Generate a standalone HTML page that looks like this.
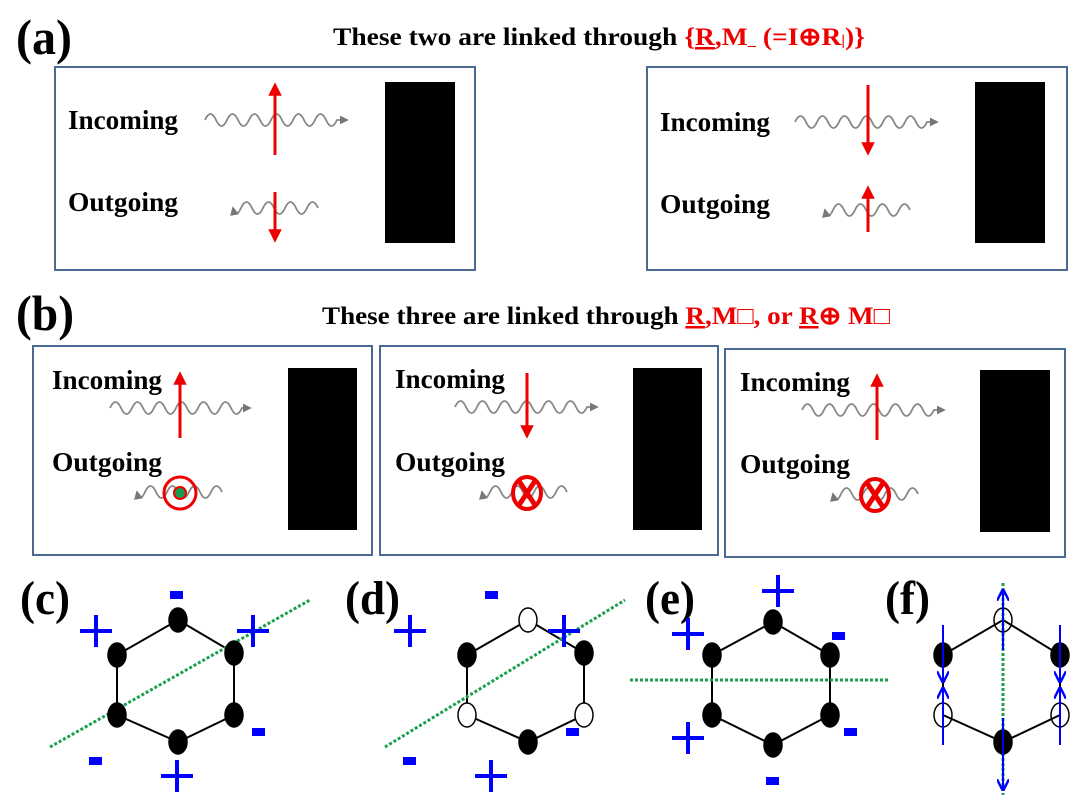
<!DOCTYPE html>
<html><head><meta charset="utf-8"><style>
html,body{margin:0;padding:0;background:#fff;}
svg{display:block;}
text{font-family:"Liberation Serif",serif;font-weight:bold;}
</style></head><body>
<svg width="1080" height="805" viewBox="0 0 1080 805" xmlns="http://www.w3.org/2000/svg">
<defs>
<marker id="ah" viewBox="0 0 10 10" refX="8" refY="5" markerWidth="4.5" markerHeight="4.5" orient="auto"><path d="M0,0 L10,5 L0,10 z" fill="#e00"/></marker>
<marker id="gh" viewBox="0 0 10 10" refX="8" refY="5" markerWidth="5" markerHeight="5" orient="auto"><path d="M0,0 L10,5 L0,10 z" fill="#777"/></marker>
<marker id="bh" viewBox="0 0 10 10" refX="9" refY="5" markerWidth="6" markerHeight="6" orient="auto"><path d="M0,0 L10,5 L0,10" fill="none" stroke="#00f" stroke-width="2"/></marker>
</defs>

<!-- (a) -->
<text x="16" y="54" font-size="50" textLength="56" lengthAdjust="spacingAndGlyphs">(a)</text>
<text x="333" y="45" font-size="25" textLength="532" lengthAdjust="spacingAndGlyphs">These two are linked through <tspan fill="#e00">{<tspan text-decoration="underline">R</tspan>,M<tspan font-size="15">_</tspan> (=I⊕R<tspan font-size="15">|</tspan>)}</tspan></text>

<rect x="55" y="67" width="420" height="203" fill="none" stroke="#4a6a92" stroke-width="2"/>
<rect x="385" y="82" width="70" height="161" fill="#000"/>
<text x="68" y="129" font-size="27" textLength="110" lengthAdjust="spacingAndGlyphs">Incoming</text>
<text x="68" y="211" font-size="27" textLength="110" lengthAdjust="spacingAndGlyphs">Outgoing</text>
<path d="M205 120 q5.5 -12 11 0 t11 0 t11 0 t11 0 t11 0 t11 0 t11 0 t11 0 t11 0 t11 0 t11 0 t11 0 l10 0" fill="none" stroke="#888" stroke-width="1.8" marker-end="url(#gh)"/>
<line x1="275" y1="155" x2="275" y2="85" stroke="#e00" stroke-width="3" marker-end="url(#ah)"/>
<path d="M318 208 q-5.5 -12 -11 0 t-11 0 t-11 0 t-11 0 t-11 0 t-11 0 t-11 0 t-8 0" fill="none" stroke="#888" stroke-width="1.8" marker-end="url(#gh)"/>
<line x1="275" y1="192" x2="275" y2="240" stroke="#e00" stroke-width="3" marker-end="url(#ah)"/>

<rect x="647" y="67" width="420" height="203" fill="none" stroke="#4a6a92" stroke-width="2"/>
<rect x="975" y="82" width="70" height="161" fill="#000"/>
<text x="660" y="131" font-size="27" textLength="110" lengthAdjust="spacingAndGlyphs">Incoming</text>
<text x="660" y="213" font-size="27" textLength="110" lengthAdjust="spacingAndGlyphs">Outgoing</text>
<path d="M795 122 q5.5 -12 11 0 t11 0 t11 0 t11 0 t11 0 t11 0 t11 0 t11 0 t11 0 t11 0 t11 0 t11 0 l10 0" fill="none" stroke="#888" stroke-width="1.8" marker-end="url(#gh)"/>
<line x1="868" y1="85" x2="868" y2="153" stroke="#e00" stroke-width="3" marker-end="url(#ah)"/>
<path d="M910 210 q-5.5 -12 -11 0 t-11 0 t-11 0 t-11 0 t-11 0 t-11 0 t-11 0 t-8 0" fill="none" stroke="#888" stroke-width="1.8" marker-end="url(#gh)"/>
<line x1="868" y1="232" x2="868" y2="188" stroke="#e00" stroke-width="3" marker-end="url(#ah)"/>

<!-- (b) -->
<text x="16" y="330" font-size="50" textLength="58" lengthAdjust="spacingAndGlyphs">(b)</text>
<text x="322" y="324" font-size="25" textLength="568" lengthAdjust="spacingAndGlyphs">These three are linked through <tspan fill="#e00"><tspan text-decoration="underline">R</tspan>,M□, or <tspan text-decoration="underline">R</tspan>⊕ M□</tspan></text>

<rect x="33" y="346" width="339" height="209" fill="none" stroke="#4a6a92" stroke-width="2"/>
<rect x="288" y="368" width="69" height="162" fill="#000"/>
<text x="52" y="389" font-size="27" textLength="110" lengthAdjust="spacingAndGlyphs">Incoming</text>
<text x="52" y="471" font-size="27" textLength="110" lengthAdjust="spacingAndGlyphs">Outgoing</text>
<path d="M110 408 q5.5 -12 11 0 t11 0 t11 0 t11 0 t11 0 t11 0 t11 0 t11 0 t11 0 t11 0 t11 0 t11 0 l8 0" fill="none" stroke="#888" stroke-width="1.8" marker-end="url(#gh)"/>
<line x1="180" y1="438" x2="180" y2="374" stroke="#e00" stroke-width="3" marker-end="url(#ah)"/>
<path d="M222 492 q-5.5 -12 -11 0 t-11 0 t-11 0 t-11 0 t-11 0 t-11 0 t-11 0 t-8 0" fill="none" stroke="#888" stroke-width="1.8" marker-end="url(#gh)"/>
<circle cx="180" cy="493" r="16" fill="none" stroke="#e00" stroke-width="3"/>
<circle cx="180" cy="493" r="6" fill="#1a9a50" stroke="#e00" stroke-width="2"/>

<rect x="380" y="346" width="338" height="209" fill="none" stroke="#4a6a92" stroke-width="2"/>
<rect x="633" y="368" width="69" height="162" fill="#000"/>
<text x="395" y="388" font-size="27" textLength="110" lengthAdjust="spacingAndGlyphs">Incoming</text>
<text x="395" y="471" font-size="27" textLength="110" lengthAdjust="spacingAndGlyphs">Outgoing</text>
<path d="M455 407 q5.5 -12 11 0 t11 0 t11 0 t11 0 t11 0 t11 0 t11 0 t11 0 t11 0 t11 0 t11 0 t11 0 l10 0" fill="none" stroke="#888" stroke-width="1.8" marker-end="url(#gh)"/>
<line x1="527" y1="373" x2="527" y2="436" stroke="#e00" stroke-width="3" marker-end="url(#ah)"/>
<path d="M567 492 q-5.5 -12 -11 0 t-11 0 t-11 0 t-11 0 t-11 0 t-11 0 t-11 0 t-8 0" fill="none" stroke="#888" stroke-width="1.8" marker-end="url(#gh)"/>
<ellipse cx="527" cy="493" rx="14" ry="16" fill="none" stroke="#e00" stroke-width="4"/>
<path d="M519 481 L535 505 M535 481 L519 505" stroke="#e00" stroke-width="5"/>

<rect x="725" y="349" width="340" height="208" fill="none" stroke="#4a6a92" stroke-width="2"/>
<rect x="980" y="370" width="70" height="162" fill="#000"/>
<text x="740" y="391" font-size="27" textLength="110" lengthAdjust="spacingAndGlyphs">Incoming</text>
<text x="740" y="473" font-size="27" textLength="110" lengthAdjust="spacingAndGlyphs">Outgoing</text>
<path d="M802 410 q5.5 -12 11 0 t11 0 t11 0 t11 0 t11 0 t11 0 t11 0 t11 0 t11 0 t11 0 t11 0 t11 0 l10 0" fill="none" stroke="#888" stroke-width="1.8" marker-end="url(#gh)"/>
<line x1="877" y1="440" x2="877" y2="376" stroke="#e00" stroke-width="3" marker-end="url(#ah)"/>
<path d="M918 494 q-5.5 -12 -11 0 t-11 0 t-11 0 t-11 0 t-11 0 t-11 0 t-11 0 t-8 0" fill="none" stroke="#888" stroke-width="1.8" marker-end="url(#gh)"/>
<ellipse cx="875" cy="495" rx="14" ry="16" fill="none" stroke="#e00" stroke-width="4"/>
<path d="M867 483 L883 507 M883 483 L867 507" stroke="#e00" stroke-width="5"/>

<!-- (c)-(f) labels -->
<text x="20" y="614" font-size="48" textLength="50" lengthAdjust="spacingAndGlyphs">(c)</text>
<text x="345" y="614" font-size="48" textLength="55" lengthAdjust="spacingAndGlyphs">(d)</text>
<text x="645" y="614" font-size="48" textLength="50" lengthAdjust="spacingAndGlyphs">(e)</text>
<text x="885" y="614" font-size="48" textLength="45" lengthAdjust="spacingAndGlyphs">(f)</text>

<g stroke="#000" stroke-width="2" fill="none">
<polygon points="178,620 234,653 234,715 178,742 117,715 117,655"/>
<polygon points="528,620 584,653 584,715 528,742 467,715 467,655"/>
<polygon points="773,622 830,655 830,715 773,745 712,715 712,655"/>
<polygon points="1003,620 1060,655 1060,715 1003,742 943,715 943,655"/>
</g>
<g stroke="#1aa050" stroke-width="3" stroke-dasharray="3,2">
<line x1="50" y1="747" x2="310" y2="600"/>
<line x1="385" y1="747" x2="625" y2="600"/>
<line x1="630" y1="680" x2="890" y2="680"/>
<line x1="1003" y1="583" x2="1003" y2="795"/>
</g>
<g stroke="#000" stroke-width="1.5">
<ellipse cx="178" cy="620" rx="9" ry="12" fill="#000"/>
<ellipse cx="234" cy="653" rx="9" ry="12" fill="#000"/>
<ellipse cx="234" cy="715" rx="9" ry="12" fill="#000"/>
<ellipse cx="178" cy="742" rx="9" ry="12" fill="#000"/>
<ellipse cx="117" cy="715" rx="9" ry="12" fill="#000"/>
<ellipse cx="117" cy="655" rx="9" ry="12" fill="#000"/>

<ellipse cx="528" cy="620" rx="9" ry="12" fill="#fff"/>
<ellipse cx="584" cy="653" rx="9" ry="12" fill="#000"/>
<ellipse cx="584" cy="715" rx="9" ry="12" fill="#fff"/>
<ellipse cx="528" cy="742" rx="9" ry="12" fill="#000"/>
<ellipse cx="467" cy="715" rx="9" ry="12" fill="#fff"/>
<ellipse cx="467" cy="655" rx="9" ry="12" fill="#000"/>

<ellipse cx="773" cy="622" rx="9" ry="12" fill="#000"/>
<ellipse cx="830" cy="655" rx="9" ry="12" fill="#000"/>
<ellipse cx="830" cy="715" rx="9" ry="12" fill="#000"/>
<ellipse cx="773" cy="745" rx="9" ry="12" fill="#000"/>
<ellipse cx="712" cy="715" rx="9" ry="12" fill="#000"/>
<ellipse cx="712" cy="655" rx="9" ry="12" fill="#000"/>

<ellipse cx="1003" cy="620" rx="9" ry="12" fill="none"/>
<ellipse cx="1060" cy="655" rx="9" ry="12" fill="#000"/>
<ellipse cx="1060" cy="715" rx="9" ry="12" fill="none"/>
<ellipse cx="1003" cy="742" rx="9" ry="12" fill="#000"/>
<ellipse cx="943" cy="715" rx="9" ry="12" fill="none"/>
<ellipse cx="943" cy="655" rx="9" ry="12" fill="#000"/>
</g>
<g stroke="#00f" stroke-width="2" marker-end="url(#bh)">
<line x1="1003" y1="650" x2="1003" y2="590"/>
<line x1="943" y1="625" x2="943" y2="682"/>
<line x1="1060" y1="625" x2="1060" y2="682"/>
<line x1="943" y1="745" x2="943" y2="688"/>
<line x1="1060" y1="745" x2="1060" y2="688"/>
<line x1="1003" y1="718" x2="1003" y2="790"/>
</g>
<!-- signs -->
<g fill="#00f">
<rect x="170" y="591" width="13" height="8"/>
<rect x="89" y="757" width="13" height="8"/><rect x="252" y="728" width="13" height="8"/>
<rect x="485" y="591" width="13" height="8"/>
<rect x="403" y="757" width="13" height="8"/><rect x="566" y="728" width="13" height="8"/>
<rect x="832" y="632" width="13" height="8"/>
<rect x="844" y="728" width="13" height="8"/>
<rect x="766" y="777" width="13" height="8"/>
</g>
<g stroke="#00f" stroke-width="4" fill="none">
<path d="M80 631 h32 M96 615 v32"/>
<path d="M237 631 h32 M253 615 v32"/>
<path d="M161 776 h32 M177 760 v32"/>
<path d="M394 631 h32 M410 615 v32"/>
<path d="M548 631 h32 M564 615 v32"/>
<path d="M475 776 h32 M491 760 v32"/>
<path d="M762 591 h32 M778 575 v32"/>
<path d="M672 634 h32 M688 618 v32"/>
<path d="M672 738 h32 M688 722 v32"/>
</g>
</svg>
</body></html>
